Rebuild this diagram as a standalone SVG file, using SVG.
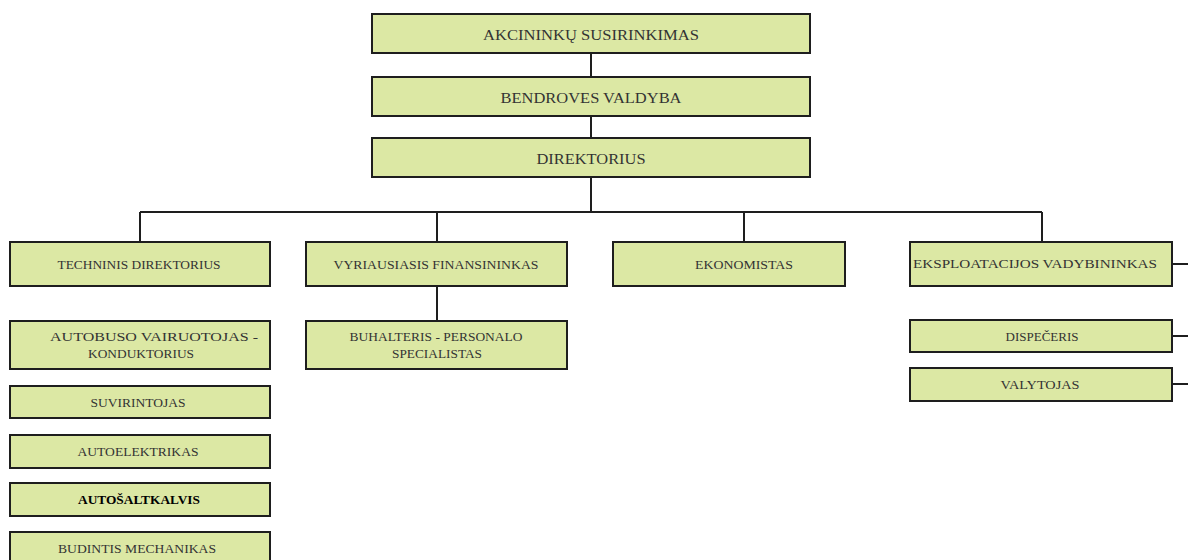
<svg xmlns="http://www.w3.org/2000/svg" width="1188" height="560" viewBox="0 0 1188 560">
<style>
.box{fill:#dce8a4;stroke:#1e1e1e;stroke-width:2}
.lbl{font-family:"Liberation Serif","Times New Roman",serif;fill:#333;text-anchor:middle}
.big{font-size:14px}
.sm{font-size:11.5px}
.con{stroke:#1e1e1e;stroke-width:2;fill:none}
</style>
<rect width="1188" height="560" fill="#ffffff"/>
<g id="connectors">
<path class="con" d="M591 53V77M591 116V138M591 177V212M140 212H1042M140 212V242M437 212V242M744 212V242M1042 212V242M437 286V321M1172 264H1188M1172 336H1188M1172 384H1188"/>
</g>
<g id="n1"><rect class="box" x="372" y="14" width="438" height="39"/><text class="lbl big" x="591" y="40" textLength="216" lengthAdjust="spacingAndGlyphs">AKCININKŲ  SUSIRINKIMAS</text></g>
<g id="n2"><rect class="box" x="372" y="77" width="438" height="39"/><text class="lbl big" x="591" y="103" textLength="181" lengthAdjust="spacingAndGlyphs">BENDROVES VALDYBA</text></g>
<g id="n3"><rect class="box" x="372" y="138" width="438" height="39"/><text class="lbl big" x="591" y="164" textLength="109" lengthAdjust="spacingAndGlyphs">DIREKTORIUS</text></g>
<g id="n4"><rect class="box" x="10" y="242" width="260" height="44"/><text class="lbl sm" x="139" y="269" textLength="163" lengthAdjust="spacingAndGlyphs">TECHNINIS DIREKTORIUS</text></g>
<g id="n5"><rect class="box" x="306" y="242" width="261" height="44"/><text class="lbl sm" x="436" y="269" textLength="205" lengthAdjust="spacingAndGlyphs">VYRIAUSIASIS  FINANSININKAS</text></g>
<g id="n6"><rect class="box" x="613" y="242" width="232" height="44"/><text class="lbl sm" x="744" y="269" textLength="98" lengthAdjust="spacingAndGlyphs">EKONOMISTAS</text></g>
<g id="n7"><rect class="box" x="910" y="242" width="262" height="44"/><text class="lbl sm" x="1035" y="268" textLength="244" lengthAdjust="spacingAndGlyphs">EKSPLOATACIJOS  VADYBININKAS</text></g>
<g id="n8"><rect class="box" x="10" y="321" width="260" height="48"/><text class="lbl sm" x="154" y="341" textLength="208" lengthAdjust="spacingAndGlyphs">AUTOBUSO VAIRUOTOJAS -</text><text class="lbl sm" x="141" y="358" textLength="106" lengthAdjust="spacingAndGlyphs">KONDUKTORIUS</text></g>
<g id="n9"><rect class="box" x="306" y="321" width="261" height="48"/><text class="lbl sm" x="436" y="341" textLength="173" lengthAdjust="spacingAndGlyphs">BUHALTERIS - PERSONALO</text><text class="lbl sm" x="437" y="358" textLength="90" lengthAdjust="spacingAndGlyphs">SPECIALISTAS</text></g>
<g id="n10"><rect class="box" x="10" y="386" width="260" height="32"/><text class="lbl sm" x="138" y="407" textLength="95" lengthAdjust="spacingAndGlyphs">SUVIRINTOJAS</text></g>
<g id="n11"><rect class="box" x="10" y="435" width="260" height="33"/><text class="lbl sm" x="138" y="456" textLength="121" lengthAdjust="spacingAndGlyphs">AUTOELEKTRIKAS</text></g>
<g id="n12"><rect class="box" x="10" y="483" width="260" height="33"/><text class="lbl sm" x="139" y="504" textLength="122" lengthAdjust="spacingAndGlyphs" style="fill:#000;font-weight:bold">AUTOŠALTKALVIS</text></g>
<g id="n13"><rect class="box" x="10" y="532" width="260" height="34"/><text class="lbl sm" x="137" y="553" textLength="158" lengthAdjust="spacingAndGlyphs">BUDINTIS MECHANIKAS</text></g>
<g id="n14"><rect class="box" x="910" y="320" width="262" height="32"/><text class="lbl sm" x="1042" y="341" textLength="73" lengthAdjust="spacingAndGlyphs">DISPEČERIS</text></g>
<g id="n15"><rect class="box" x="910" y="368" width="262" height="33"/><text class="lbl sm" x="1040" y="389" textLength="79" lengthAdjust="spacingAndGlyphs">VALYTOJAS</text></g>
</svg>
